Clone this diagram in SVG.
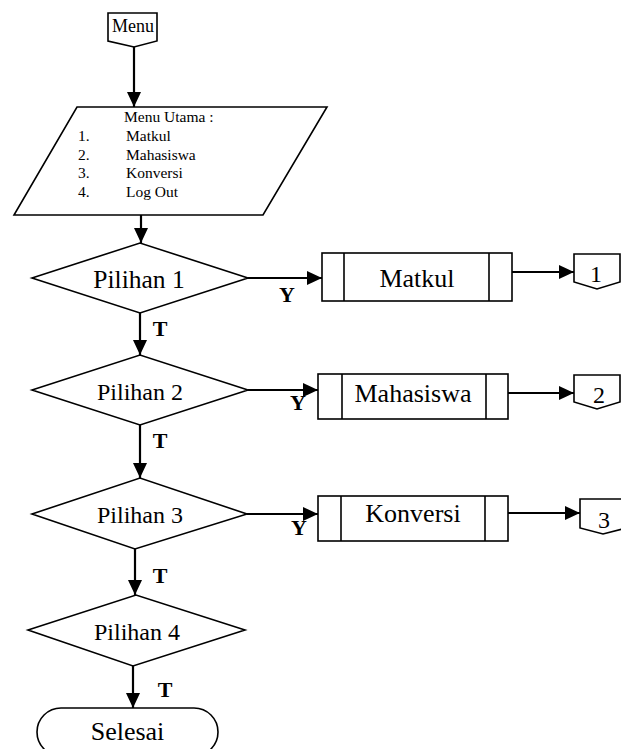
<svg xmlns="http://www.w3.org/2000/svg" width="621" height="749" viewBox="0 0 621 749">
<style>
.s{fill:#fff;stroke:#000;stroke-width:1.6}
.ln{fill:none;stroke:#000;stroke-width:2.2}
.t{font-family:"Liberation Serif","Times New Roman",serif;fill:#000}
.lb{font-family:"Liberation Serif","Times New Roman",serif;font-weight:bold;font-size:22px;fill:#000;text-anchor:middle}
</style>
<defs>
<marker id="ah" markerUnits="userSpaceOnUse" markerWidth="16" markerHeight="14" refX="15" refY="7" orient="auto">
<path d="M0,0 L15,7 L0,14 z" fill="#000"/>
</marker>
</defs>
<g id="connectors">
<line class="ln" x1="134" y1="47" x2="134" y2="107" marker-end="url(#ah)"/>
<line class="ln" x1="141" y1="215" x2="141" y2="243" marker-end="url(#ah)"/>
<line class="ln" x1="140" y1="313" x2="140" y2="355" marker-end="url(#ah)"/>
<line class="ln" x1="140" y1="425" x2="140" y2="478" marker-end="url(#ah)"/>
<line class="ln" x1="135" y1="549" x2="135" y2="595" marker-end="url(#ah)"/>
<line class="ln" x1="133" y1="666" x2="133" y2="708" marker-end="url(#ah)"/>
<line class="ln" x1="248" y1="278" x2="322" y2="278" marker-end="url(#ah)"/>
<line class="ln" x1="512" y1="272" x2="574" y2="272" marker-end="url(#ah)"/>
<line class="ln" x1="248" y1="390" x2="318" y2="390" marker-end="url(#ah)"/>
<line class="ln" x1="508" y1="393" x2="574" y2="393" marker-end="url(#ah)"/>
<line class="ln" x1="247" y1="514" x2="318" y2="514" marker-end="url(#ah)"/>
<line class="ln" x1="508" y1="513" x2="580" y2="513" marker-end="url(#ah)"/>
<text class="lb" x="287" y="302">Y</text>
<text class="lb" x="298" y="410">Y</text>
<text class="lb" x="299" y="535">Y</text>
<text class="lb" x="160" y="336">T</text>
<text class="lb" x="160" y="448">T</text>
<text class="lb" x="160" y="583">T</text>
<text class="lb" x="165" y="697">T</text>
</g>
<g id="menu">
<polygon class="s" points="108,13 157,13 157,41 134,47 108,41"/>
<text class="t" x="133" y="32" font-size="18" text-anchor="middle">Menu</text>
</g>
<g id="menu-utama">
<polygon class="s" points="77,107 327,107 263,215 14,215"/>
<text class="t" x="124" y="122" font-size="15.5">Menu Utama :</text>
<text class="t" x="78" y="141" font-size="15.5">1.</text>
<text class="t" x="126" y="141" font-size="15.5">Matkul</text>
<text class="t" x="78" y="159.5" font-size="15.5">2.</text>
<text class="t" x="126" y="159.5" font-size="15.5">Mahasiswa</text>
<text class="t" x="78" y="178" font-size="15.5">3.</text>
<text class="t" x="126" y="178" font-size="15.5">Konversi</text>
<text class="t" x="78" y="197" font-size="15.5">4.</text>
<text class="t" x="126" y="197" font-size="15.5">Log Out</text>
</g>
<g id="pilihan1">
<polygon class="s" points="32,278 140,243 248,278 140,313"/>
<text class="t" x="139" y="288" font-size="25.5" text-anchor="middle">Pilihan 1</text>
</g>
<g id="pilihan2">
<polygon class="s" points="32,390 140,355 248,390 140,425"/>
<text class="t" x="140" y="400" font-size="24" text-anchor="middle">Pilihan 2</text>
</g>
<g id="pilihan3">
<polygon class="s" points="32,514 140,478 247,514 135,549"/>
<text class="t" x="140" y="523" font-size="24" text-anchor="middle">Pilihan 3</text>
</g>
<g id="pilihan4">
<polygon class="s" points="28,630 136,595 245,630 133,666"/>
<text class="t" x="137" y="640" font-size="24" text-anchor="middle">Pilihan 4</text>
</g>
<g id="matkul">
<rect class="s" x="322" y="253" width="190" height="48"/>
<line class="s" x1="344" y1="253" x2="344" y2="301"/>
<line class="s" x1="489" y1="253" x2="489" y2="301"/>
<text class="t" x="417" y="287" font-size="26" text-anchor="middle">Matkul</text>
</g>
<g id="mahasiswa">
<rect class="s" x="318" y="374" width="190" height="45"/>
<line class="s" x1="342" y1="374" x2="342" y2="419"/>
<line class="s" x1="486" y1="374" x2="486" y2="419"/>
<text class="t" x="413" y="402" font-size="26" text-anchor="middle">Mahasiswa</text>
</g>
<g id="konversi">
<rect class="s" x="318" y="496" width="190" height="45"/>
<line class="s" x1="341" y1="496" x2="341" y2="541"/>
<line class="s" x1="485" y1="496" x2="485" y2="541"/>
<text class="t" x="413" y="522" font-size="26" text-anchor="middle">Konversi</text>
</g>
<g id="conn1">
<polygon class="s" points="574,254 620,254 620,282 597,289 574,282"/>
<text class="t" x="596" y="282" font-size="24" text-anchor="middle">1</text>
</g>
<g id="conn2">
<polygon class="s" points="574,375 620,375 620,402 597,409 574,402"/>
<text class="t" x="599" y="403" font-size="24" text-anchor="middle">2</text>
</g>
<g id="conn3">
<polygon class="s" points="580,499 626,499 626,528 603,534 580,528"/>
<text class="t" x="604" y="528" font-size="24" text-anchor="middle">3</text>
</g>
<g id="selesai">
<rect class="s" x="37" y="708" width="181" height="48" rx="24" ry="24"/>
<text class="t" x="127.5" y="740" font-size="26" text-anchor="middle">Selesai</text>
</g>
</svg>
